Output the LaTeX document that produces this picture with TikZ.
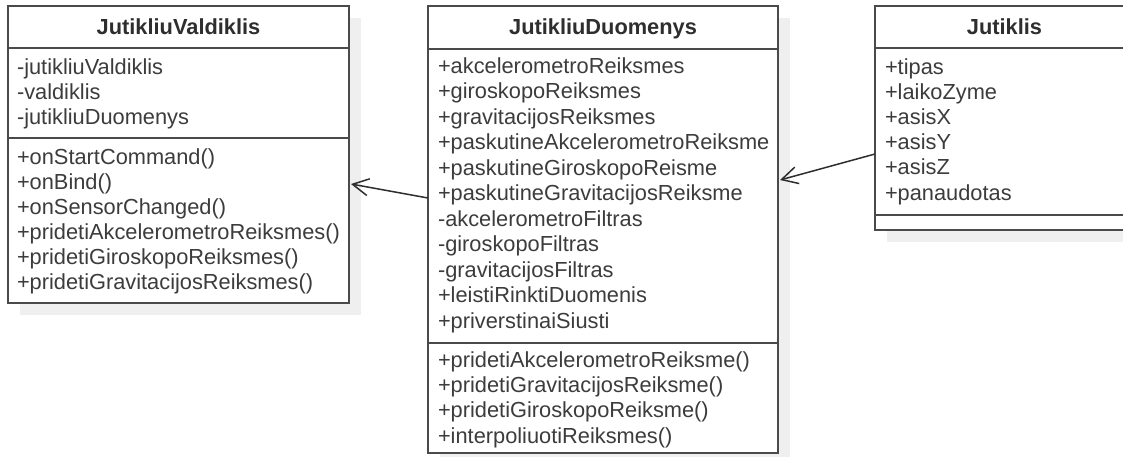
\documentclass[tikz,border=0pt]{standalone}
\usepackage{fontspec}
\setmainfont{Liberation Sans}
\usetikzlibrary{arrows.meta,shadows}
\definecolor{umlline}{HTML}{4A4A4A}
\definecolor{umltext}{HTML}{3C3C3C}
\definecolor{umltitle}{HTML}{2E2E2E}
\definecolor{umlshadow}{HTML}{EFEFEF}
\begin{document}
\begin{tikzpicture}[x=1pt,y=-1pt,
  umlbox/.style={draw=umlline, line width=2pt, fill=white, inner sep=0pt, outer sep=0pt,
    anchor=north west,
    drop shadow={shadow xshift=12pt, shadow yshift=-12pt, fill=umlshadow, opacity=1}},
  sepline/.style={draw=umlline, line width=2pt},
  txt/.style={anchor=base west, inner sep=0pt, outer sep=0pt, text=umltext,
    font=\fontsize{21.8}{25}\selectfont},
  ttl/.style={anchor=base, inner sep=0pt, outer sep=0pt, text=umltitle,
    font=\fontsize{21.8}{25}\selectfont\bfseries},
  assoc/.style={draw=umltitle, line width=1.5pt,
    -{Straight Barb[length=16pt, width=17pt, line width=1.5pt]}}]
\clip (0,0) rectangle (1123,456);
\useasboundingbox (0,0) rectangle (1123,456);

% boxes
\node[umlbox, minimum width=341pt, minimum height=297pt] (valdi) at (8,6) {};
\node[umlbox, minimum width=350pt, minimum height=447pt] (duom) at (428,6) {};
\node[umlbox, minimum width=259pt, minimum height=224pt] (jut) at (875,6) {};

% separators
\draw[sepline] ([yshift=-42pt]valdi.north west) -- ([yshift=-42pt]valdi.north east);
\draw[sepline] ([yshift=-132pt]valdi.north west) -- ([yshift=-132pt]valdi.north east);
\draw[sepline] ([yshift=-43pt]duom.north west) -- ([yshift=-43pt]duom.north east);
\draw[sepline] ([yshift=-337pt]duom.north west) -- ([yshift=-337pt]duom.north east);
\draw[sepline] ([yshift=-42pt]jut.north west) -- ([yshift=-42pt]jut.north east);
\draw[sepline] ([yshift=-209pt]jut.north west) -- ([yshift=-209pt]jut.north east);

% titles
\node[ttl] (valdiT) at (178.5,34.5) {JutikliuValdiklis};
\node[ttl] (duomT) at (603,34.5) {JutikliuDuomenys};
\node[ttl] (jutT) at (1004.5,34.5) {Jutiklis};

% JutikliuValdiklis
\foreach \t [count=\i] in {-jutikliuValdiklis,-valdiklis,-jutikliuDuomenys}
  \node[txt] (va\i) at (17,{74+25*(\i-1)}) {\t};
\foreach \t [count=\i] in {+onStartCommand(),+onBind(),+onSensorChanged(),
    +pridetiAkcelerometroReiksmes(),+pridetiGiroskopoReiksmes(),+pridetiGravitacijosReiksmes()}
  \node[txt] (vm\i) at (17,{164.3+25*(\i-1)}) {\t};

% JutikliuDuomenys
\foreach \t [count=\i] in {+akcelerometroReiksmes,+giroskopoReiksmes,+gravitacijosReiksmes,
    +paskutineAkcelerometroReiksme,+paskutineGiroskopoReisme,+paskutineGravitacijosReiksme,
    -akcelerometroFiltras,-giroskopoFiltras,-gravitacijosFiltras,
    +leistiRinktiDuomenis,+priverstinaiSiusti}
  \node[txt] (da\i) at (438,{73.5+25.45*(\i-1)}) {\t};
\foreach \t [count=\i] in {+pridetiAkcelerometroReiksme(),+pridetiGravitacijosReiksme(),
    +pridetiGiroskopoReiksme(),+interpoliuotiReiksmes()}
  \node[txt] (dm\i) at (438,{367+25.4*(\i-1)}) {\t};

% Jutiklis
\foreach \t [count=\i] in {+tipas,+laikoZyme,+asisX,+asisY,+asisZ,+panaudotas}
  \node[txt] (ja\i) at (885,{74+25.2*(\i-1)}) {\t};

% associations
\draw[assoc] ([yshift=-192pt]duom.north west) -- ([yshift=-178pt,xshift=2pt]valdi.north east);
\draw[assoc] ([yshift=-148pt]jut.north west) -- ([yshift=-174pt,xshift=2pt]duom.north east);
\end{tikzpicture}
\end{document}
